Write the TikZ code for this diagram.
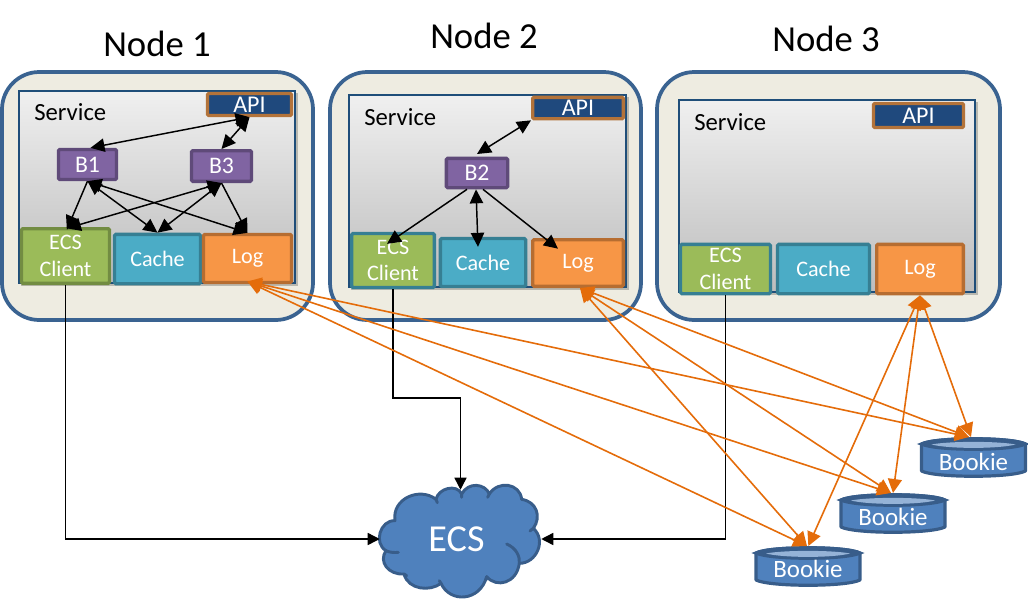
\documentclass[tikz,border=0pt]{standalone}
\usepackage{fontspec}
\setmainfont{Carlito}
\usetikzlibrary{arrows.meta}
\definecolor{nodefill}{HTML}{EEECE1}
\definecolor{nodeline}{HTML}{3A6391}
\definecolor{svcline}{HTML}{1F4E79}
\definecolor{apifill}{HTML}{1F497D}
\definecolor{apiline}{HTML}{B3733A}
\definecolor{bfill}{HTML}{8064A2}
\definecolor{bline}{HTML}{5F4A79}
\definecolor{ecsfill}{HTML}{9BBB59}
\definecolor{ecsline}{HTML}{728C42}
\definecolor{cachefill}{HTML}{4BACC6}
\definecolor{cacheline}{HTML}{367F93}
\definecolor{logfill}{HTML}{F79646}
\definecolor{logline}{HTML}{B66D31}
\definecolor{blue1}{HTML}{4F81BD}
\definecolor{blue2}{HTML}{385D8A}
\definecolor{blue3}{HTML}{95B3D7}
\definecolor{orangeline}{HTML}{E46C0A}
\tikzset{
  x=0.75pt,y=-0.75pt,
  title/.style={font=\fontsize{27.5}{30}\selectfont,text=black},
  nodebox/.style={draw=nodeline,line width=2.8pt,fill=nodefill,rounded corners=28pt},
  svc/.style={draw=svcline,line width=1.1pt,top color=black!6,bottom color=black!26},
  svcshadow/.style={fill=black,opacity=.22},
  svclabel/.style={font=\fontsize{18.5}{20}\selectfont,text=black,anchor=west,inner sep=0pt},
  box/.style={rectangle,rounded corners=1pt,inner sep=0pt,text=white,align=center,line width=2.5pt,font=\fontsize{16.6}{20}\selectfont,anchor=center},
  boxsz/.style 2 args={minimum width=#1pt,minimum height=#2pt},
  api/.style={box,draw=apiline,fill=apifill,font=\fontsize{18}{20}\selectfont},
  bb/.style={box,draw=bline,fill=bfill,font=\fontsize{17.8}{20}\selectfont},
  ecs/.style={box,draw=ecsline,fill=ecsfill},
  ecsb/.style={box,draw=cacheline,fill=ecsfill},
  cache/.style={box,draw=cacheline,fill=cachefill},
  logb/.style={box,draw=logline,fill=logfill},
  bk/.style={<->,>={Triangle[length=10.5pt,width=10pt]},line width=1.1pt,black},
  bkone/.style={->,>={Triangle[length=10.5pt,width=10pt]},line width=1.1pt,black},
  feed/.style={->,>={Triangle[length=9pt,width=9pt]},line width=1.1pt,black},
  og/.style={<->,>={Triangle[length=10.5pt,width=10.5pt]},line width=1.2pt,orangeline},
  bookie/.style={text=white,font=\fontsize{18.7}{20}\selectfont,inner sep=0pt},
  cloudtext/.style={text=white,font=\fontsize{28.6}{30}\selectfont,inner sep=0pt},
}
\newcommand{\bookiedrum}[2]{% cx, top of the body
  \fill[blue1,draw=blue2,line width=2.4pt,line join=round] (#1-52,#2) -- (#1-52,#2+27) .. controls (#1-38,#2+34) and (#1+38,#2+34) .. (#1+52,#2+27) -- (#1+52,#2) .. controls (#1+38,#2-7) and (#1-38,#2-7) .. (#1-52,#2) -- cycle;
  \fill[blue2,draw=blue2,line width=2.4pt] (#1-52,#2) .. controls (#1-38,#2+7) and (#1+38,#2+7) .. (#1+52,#2) .. controls (#1+38,#2-7) and (#1-38,#2-7) .. (#1-52,#2) -- cycle;
  \fill[blue3] (#1-42,#2+.5) .. controls (#1-25,#2+5) and (#1+25,#2+5) .. (#1+42,#2+.5) .. controls (#1+25,#2-3) and (#1-25,#2-3) .. (#1-42,#2+.5) -- cycle;
}
\begin{document}
\begin{tikzpicture}
\useasboundingbox (0,0) rectangle (1028,600);
% outer boxes
\draw[nodebox] (2,72) rectangle (313,320);
\draw[nodebox] (330,72) rectangle (641,320);
\draw[nodebox] (657,72) rectangle (1000,320);
\node[title] (t1) at (157,44) {Node 1};
\node[title] (t2) at (484,36) {Node 2};
\node[title] (t3) at (826,39) {Node 3};
% service panels
\fill[svcshadow] (21,93) rectangle (298,286);
\fill[svcshadow] (351,97) rectangle (629,290);
\fill[svcshadow] (681,102) rectangle (978,295);
\draw[svc] (19,91) rectangle (295,283);
\draw[svc] (349,95) rectangle (626,287);
\draw[svc] (679,100) rectangle (975,292);
\node[svclabel] (s1) at (34,112) {Service};
\node[svclabel] (s2) at (364,117) {Service};
\node[svclabel] (s3) at (694,122) {Service};
% API
\node[api,boxsz={63}{16.5}] (a1) at (249.5,104.5) {API};
\node[api,boxsz={68}{16}] (a2) at (578,108) {API};
\node[api,boxsz={67.5}{18}] (a3) at (918.5,115.5) {API};
% brokers
\node[bb,boxsz={43.5}{22.5}] (b1) at (87.5,164.5) {B1};
\node[bb,boxsz={45}{23}] (b3) at (221.5,166) {B3};
\node[bb,boxsz={46}{22}] (b2) at (477,173) {B2};
% row of boxes
\node[ecs,boxsz={66}{41}] (e1) at (65.5,256) {ECS\\Client};
\node[cache,boxsz={64.5}{37}] (c1) at (157.5,259) {Cache};
\node[logb,boxsz={66}{36}] (l1) at (247.5,258.5) {Log};
\node[ecsb,boxsz={62}{40.5}] (e2) at (393,260.5) {ECS\\Client};
\node[cache,boxsz={64}{36}] (c2) at (483,262.5) {Cache};
\node[logb,boxsz={68}{35}] (l2) at (578,263) {Log};
\node[ecsb,boxsz={67.5}{37}] (e3) at (725.5,269) {ECS\\Client};
\node[cache,boxsz={69}{37}] (c3) at (823.5,269) {Cache};
\node[logb,boxsz={65}{37}] (l3) at (920,269) {Log};
% cloud
\begin{scope}[shift={(360,420)},x=0.25pt,y=-0.25pt,line join=round]
\draw[blue2,fill=blue1,line width=2.2pt]
 (105,302) .. controls (95,235) and (180,200) .. (228,238)
 .. controls (235,205) and (290,190) .. (305,222)
 .. controls (325,185) and (375,190) .. (388,222)
 .. controls (415,180) and (480,190) .. (485,238)
 .. controls (530,245) and (545,290) .. (520,325)
 .. controls (560,360) and (530,430) .. (478,430)
 .. controls (470,490) and (410,505) .. (380,470)
 .. controls (360,545) and (270,550) .. (243,490)
 .. controls (210,515) and (145,510) .. (132,462)
 .. controls (85,465) and (55,425) .. (78,392)
 .. controls (40,370) and (60,300) .. (105,302) -- cycle;
\draw[blue2,line width=2.2pt,line cap=round]
 (440,372) .. controls (470,385) and (480,410) .. (478,430)
 (510,333) -- (523,322)
 (78,392) .. controls (90,398) and (105,398) .. (115,397)
 (228,238) -- (232,248)
 (305,222) -- (305,232)
 (388,222) -- (383,232)
 (132,462) -- (140,467)
 (380,470) -- (378,480)
 (243,490) -- (238,482);
\end{scope}
\node[cloudtext,minimum width=120.75pt,minimum height=73.5pt] (ecs) at (460.5,539) {\hspace*{-6pt}ECS};
% bookies
\bookiedrum{973.5}{444}
\bookiedrum{893}{500}
\bookiedrum{808}{553}
\node[bookie] (k1) at (973.5,462) {Bookie};
\node[bookie] (k2) at (893,517) {Bookie};
\node[bookie] (k3) at (808,569) {Bookie};
\coordinate (k1t) at (969,437);
\coordinate (k2t) at (891,493);
\coordinate (k3t) at (807,546);
% black internal arrows
\draw[bk] (a1.south) -- ([xshift=2.25pt]b1.north);
\draw[bk] (a1.south) -- (b3.north);
\draw[bk] (a2.south west) -- ([yshift=2pt]b2.north);
\draw[bkone] (b1.south) -- ([xshift=1pt,yshift=-2pt]e1.north);
\draw[bk] (b1.south) -- (c1.north);
\draw[bk] (b1.south) -- (l1.north);
\draw[bk] (b3.south) -- ([xshift=1pt,yshift=-1pt]e1.north);
\draw[bk] (b3.south) -- (c1.north);
\draw[bkone] (b3.south) -- (l1.north);
\draw[bkone] ([xshift=-7.5pt]b2.south) -- ([xshift=-4.5pt,yshift=-9pt]e2.north);
\draw[bk] ([xshift=-0.75pt]b2.south) -- ([xshift=-3.75pt,yshift=-7.5pt]c2.north);
\draw[bkone] ([xshift=4.5pt]b2.south) -- ([xshift=-15pt,yshift=-8pt]l2.north);
% feeds
\coordinate (f2) at (460.5,398);
\draw[feed] (e1.south) |- (ecs.west);
\draw[feed] (e2.south) |- (f2) -- (ecs.north);
\draw[feed] (e3.south) |- (ecs.east);
% orange
\draw[og] ([yshift=2pt]l1.south) -- (k1t);
\draw[og] ([yshift=2pt]l1.south) -- (k2t);
\draw[og] ([yshift=2pt]l1.south) -- (k3t);
\draw[og] ([xshift=1.5pt]l2.south) -- (k1t);
\draw[og] ([xshift=1.5pt]l2.south) -- (k2t);
\draw[og] ([xshift=1.5pt]l2.south) -- (k3t);
\draw[og] (l3.south) -- ([xshift=1.5pt]k1t);
\draw[og] (l3.south) -- ([xshift=1.5pt]k2t);
\draw[og] (l3.south) -- ([xshift=1pt]k3t);
\end{tikzpicture}
\end{document}
